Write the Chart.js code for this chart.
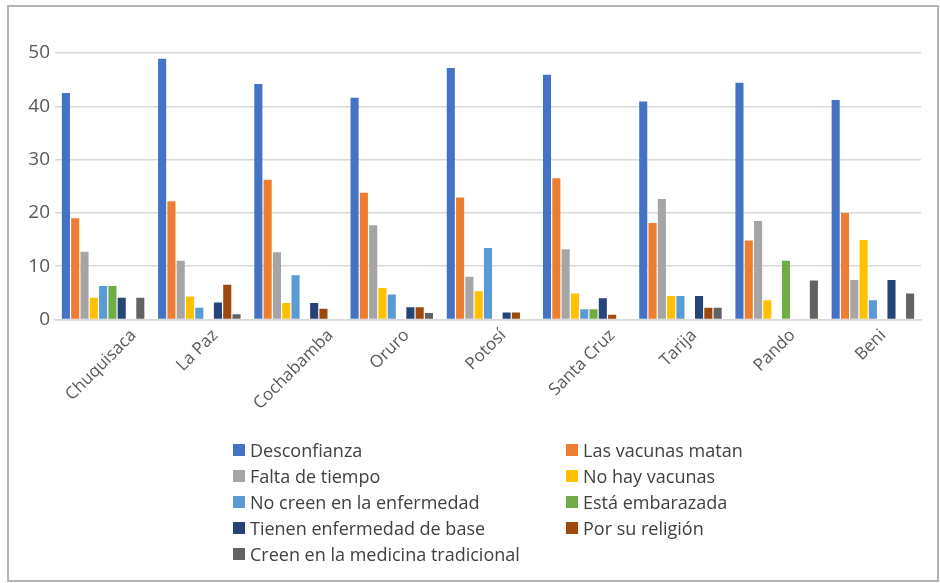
<!DOCTYPE html>
<html>
<head>
<meta charset="utf-8">
<script src="https://cdn.jsdelivr.net/npm/chart.js@4"></script>
<style>
  html, body { margin: 0; padding: 0; background: #fff; }
  #wrap { position: relative; width: 940px; height: 583px; overflow: hidden; }
  #frame { position: absolute; left: 7px; top: 5px; width: 928px; height: 573px; border: 2px solid #b3b3b3; }
  canvas { position: absolute; left: 0; top: 0; }
  #legend {
    position: absolute; left: 233px; top: 437px;
    display: grid; grid-template-columns: 333px auto; grid-auto-rows: 25.9px;
    font-family: "Open Sans", sans-serif; font-size: 18px; color: #404040;
  }
  #legend .item { display: flex; align-items: center; white-space: nowrap; }
  #legend .sw { width: 12px; height: 12px; margin-right: 5px; flex: none; }
</style>
</head>
<body>
<div id="wrap">
  <div id="frame"></div>
  <canvas id="chart" width="940" height="583"></canvas>
  <div id="legend"></div>
</div>
<script>
// Departments of Bolivia
const regions = ['Chuquisaca', 'La Paz', 'Cochabamba', 'Oruro', 'Potosí', 'Santa Cruz', 'Tarija', 'Pando', 'Beni'];

// Reasons for not getting vaccinated (%), one array per reason
const desconfianza        = [42.5, 48.9, 44.2, 41.6, 47.2, 45.9, 40.9, 44.4, 41.2];
const vacunasMatan        = [19.0, 22.2, 26.2, 23.8, 22.9, 26.5, 18.1, 14.8, 20.0];
const faltaTiempo         = [12.7, 11.0, 12.6, 17.7, 8.0, 13.2, 22.6, 18.5, 7.4];
const noHayVacunas        = [4.1, 4.3, 3.1, 5.9, 5.3, 4.9, 4.4, 3.6, 14.9];
const noCreenEnfermedad   = [6.3, 2.2, 8.3, 4.7, 13.4, 1.9, 4.4, 0, 3.6];
const embarazada          = [6.3, 0, 0, 0, 0, 1.9, 0, 11.0, 0];
const enfermedadBase      = [4.1, 3.2, 3.1, 2.3, 1.3, 4.0, 4.4, 0, 7.4];
const religion            = [0, 6.5, 2.0, 2.3, 1.3, 0.9, 2.2, 0, 0];
const medicinaTradicional = [4.1, 1.0, 0, 1.2, 0, 0, 2.2, 7.3, 4.9];

// Axis ticks
const yMin = 0, yMax = 50, yStep = 10;

const seriesNames = ['Desconfianza', 'Las vacunas matan', 'Falta de tiempo', 'No hay vacunas',
  'No creen en la enfermedad', 'Está embarazada', 'Tienen enfermedad de base', 'Por su religión',
  'Creen en la medicina tradicional'];
const seriesValues = [desconfianza, vacunasMatan, faltaTiempo, noHayVacunas, noCreenEnfermedad,
  embarazada, enfermedadBase, religion, medicinaTradicional];
const seriesColors = ['#4472C4', '#ED7D31', '#A5A5A5', '#FFC000', '#5B9BD5', '#70AD47', '#264478', '#9E480E', '#636363'];

const datasets = seriesNames.map((name, i) => ({
  label: name,
  data: seriesValues[i],
  backgroundColor: seriesColors[i],
  borderWidth: 0,
  categoryPercentage: 0.87,
  barPercentage: 0.87
}));

// Category labels slanted at 45°, each centred under its group
const slantLabels = {
  id: 'slantLabels',
  afterDraw(chart) {
    const ctx = chart.ctx;
    const xs = chart.scales.x;
    ctx.save();
    ctx.font = '17px "Open Sans"';
    ctx.fillStyle = '#595959';
    ctx.textAlign = 'center';
    ctx.textBaseline = 'middle';
    const h = 16;
    regions.forEach((lab, i) => {
      const w = ctx.measureText(lab).width;
      const cx = xs.getPixelForValue(i) - 2;
      const cy = 327 + (w + h) * Math.SQRT1_2 / 2;
      ctx.save();
      ctx.translate(cx, cy);
      ctx.rotate(-Math.PI / 4);
      ctx.fillText(lab, 0, 0);
      ctx.restore();
    });
    ctx.restore();
  }
};

new Chart(document.getElementById('chart'), {
  type: 'bar',
  data: { labels: regions, datasets },
  plugins: [slantLabels],
  options: {
    responsive: false,
    animation: false,
    layout: { padding: { top: 53, right: 19, left: 0, bottom: 0 } },
    plugins: { legend: { display: false }, tooltip: { enabled: false } },
    scales: {
      x: {
        grid: { display: false },
        border: { color: '#d9d9d9', width: 1.5 },
        ticks: { display: false },
        afterFit: s => { s.height = 263.5; }
      },
      y: {
        min: yMin, max: yMax,
        ticks: { stepSize: yStep, font: { family: 'Open Sans', size: 19 }, color: '#595959', padding: 5 },
        grid: { color: '#d9d9d9', lineWidth: 1.5, drawTicks: false },
        border: { display: false },
        afterFit: s => { s.width = 55; }
      }
    }
  }
});

// Legend in two columns
const legend = document.getElementById('legend');
seriesNames.forEach((name, i) => {
  const item = document.createElement('div');
  item.className = 'item';
  const sw = document.createElement('span');
  sw.className = 'sw';
  sw.style.background = seriesColors[i];
  const t = document.createElement('span');
  t.textContent = name;
  item.appendChild(sw);
  item.appendChild(t);
  legend.appendChild(item);
});
</script>
</body>
</html>
